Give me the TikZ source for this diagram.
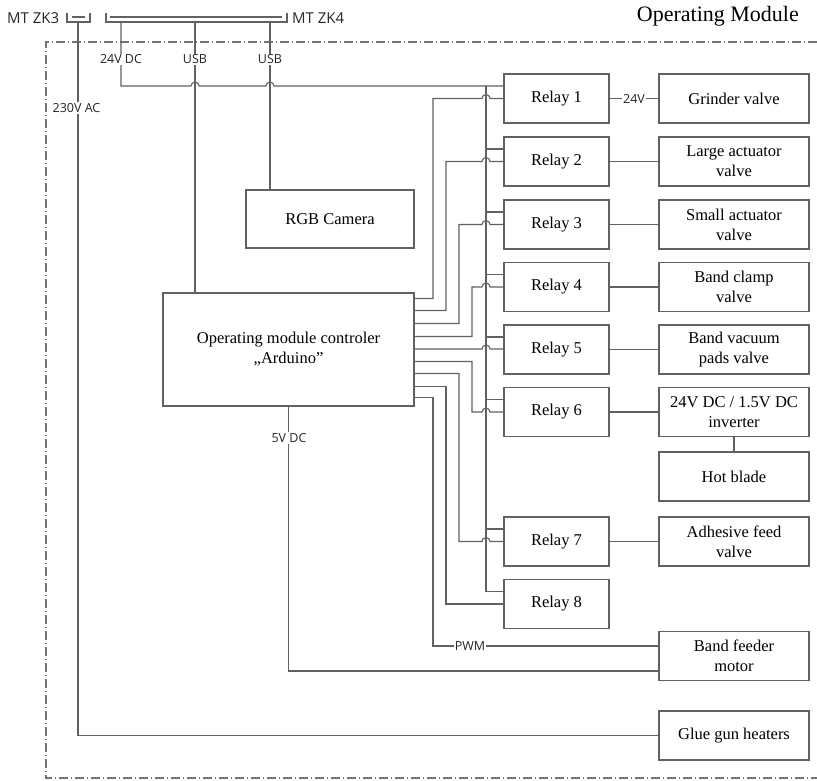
\documentclass[tikz,border=0pt]{standalone}
\usepackage{fontspec}
\setmainfont{Liberation Serif}
\newfontfamily\labfont{Open Sans}
\usetikzlibrary{calc}
\begin{document}
\begin{tikzpicture}[x=1pt,y=-1pt,
  wire/.style={draw=black!62,line width=1.1pt},
  border/.style={draw=black!55,line width=1.1pt,dash pattern=on 9pt off 3pt on 1pt off 3pt},
  relaybox/.style={draw=black!62,line width=1.1pt,rectangle,minimum width=105pt,minimum height=49pt,inner sep=1pt,align=center,font=\fontsize{16.5}{20}\selectfont},
  devbox/.style={relaybox,minimum width=150pt},
  lab/.style={fill=white,inner sep=1pt,text=black!85,font=\labfont\fontsize{12.5}{14}\selectfont},
  toplab/.style={anchor=base west,inner sep=0pt,font=\labfont\fontsize{15}{17}\selectfont,text=black!85}
]
\useasboundingbox (0,0) rectangle (817,780);

% frame
\draw[border] (817,42) -- (46,42) -- (46,778) -- (817,778);
\node[anchor=base east,font=\fontsize{22}{24}\selectfont,inner sep=0pt] (title) at (799,21) {Operating Module};

% connectors on top
\node[toplab] (zk3) at (7,23) {MT ZK3};
\node[toplab] (zk4) at (292,23) {MT ZK4};
\draw[wire] (67,13) -- (67,22) -- (90,22) -- (90,13);
\draw[wire] (72,17) -- (85,17);
\draw[wire] (106,13) -- (106,22) -- (287,22) -- (287,13);
\draw[wire] (110,17) -- (282,17);
\coordinate (t230) at (78,22);
\coordinate (t24) at (121,22);
\coordinate (tusbA) at (195,22);
\coordinate (tusbB) at (270,22);

% relays
\node[relaybox] (r1) at (556.5,98.5) {Relay 1};
\node[relaybox] (r2) at (556.5,161.5) {Relay 2};
\node[relaybox] (r3) at (556.5,224.5) {Relay 3};
\node[relaybox] (r4) at (556.5,287) {Relay 4};
\node[relaybox] (r5) at (556.5,349.5) {Relay 5};
\node[relaybox] (r6) at (556.5,412) {Relay 6};
\node[relaybox] (r7) at (556.5,541.5) {Relay 7};
\node[relaybox] (r8) at (556.5,604) {Relay 8};

% devices
\node[devbox] (d1) at (734,98.5) {Grinder valve};
\node[devbox] (d2) at (734,161.5) {Large actuator\\valve};
\node[devbox] (d3) at (734,224.5) {Small actuator\\valve};
\node[devbox] (d4) at (734,287) {Band clamp\\valve};
\node[devbox] (d5) at (734,349.5) {Band vacuum\\pads valve};
\node[devbox] (d6) at (734,412) {24V DC / 1.5V DC\\inverter};
\node[devbox] (hb) at (734,476.5) {Hot blade};
\node[devbox] (d7) at (734,541.5) {Adhesive feed\\valve};
\node[devbox] (bf) at (734,656) {Band feeder\\motor};
\node[devbox] (gg) at (734,735.5) {Glue gun heaters};

% controller and camera
\node[relaybox,minimum width=251pt,minimum height=113pt] (ard) at (288.5,349.5) {Operating module controler\\„Arduino”};
\node[relaybox,minimum width=168pt,minimum height=58pt] (cam) at (330,219) {RGB Camera};

% columns
\coordinate (c1) at (433,0);
\coordinate (c2) at (446,0);
\coordinate (c3) at (459,0);
\coordinate (c4) at (472,0);
\coordinate (bus) at (486,0);

% controller outputs
\coordinate (o1) at ($(ard.north east)+(0,6)$);
\coordinate (o2) at ($(ard.north east)+(0,18)$);
\coordinate (o3) at ($(ard.north east)+(0,31)$);
\coordinate (o4) at ($(ard.north east)+(0,44)$);
\coordinate (o5) at ($(ard.north east)+(0,56.5)$);
\coordinate (o6) at ($(ard.north east)+(0,69)$);
\coordinate (o7) at ($(ard.north east)+(0,81)$);
\coordinate (o8) at ($(ard.north east)+(0,94)$);
\coordinate (o9) at ($(ard.north east)+(0,105)$);

% power taps of relays
\foreach \i in {1,...,8} {\coordinate (p\i) at ($(r\i.west)+(0,-12.5)$);}

% 24V DC supply line with hops
\draw[wire] (t24) |- ($(tusbA |- p1)+(-4,0)$) arc[start angle=180,end angle=0,radius=4pt]
  -- ($(tusbB |- p1)+(-4,0)$) arc[start angle=180,end angle=0,radius=4pt] -- (p1);
% bus
\draw[wire] (bus |- p1) -- (bus |- p8);
\foreach \i in {2,...,8} {\draw[wire] (bus |- p\i) -- (p\i);}

% USB
\draw[wire] (tusbA) -- (tusbA |- ard.north);
\draw[wire] (tusbB) -- (tusbB |- cam.north);

% 230V AC
\draw[wire] (t230) |- (gg.west);

% signal lines
\draw[wire] (o1) -| (c1 |- r1.west) -- ($(bus |- r1.west)+(-4,0)$) arc[start angle=180,end angle=0,radius=4pt] -- (r1.west);
\draw[wire] (o2) -| (c2 |- r2.west) -- ($(bus |- r2.west)+(-4,0)$) arc[start angle=180,end angle=0,radius=4pt] -- (r2.west);
\draw[wire] (o3) -| (c3 |- r3.west) -- ($(bus |- r3.west)+(-4,0)$) arc[start angle=180,end angle=0,radius=4pt] -- (r3.west);
\draw[wire] (o4) -| (c4 |- r4.west) -- ($(bus |- r4.west)+(-4,0)$) arc[start angle=180,end angle=0,radius=4pt] -- (r4.west);
\draw[wire] (o5) -- ($(bus |- o5)+(-4,0)$) arc[start angle=180,end angle=0,radius=4pt] -- (r5.west |- o5);
\draw[wire] (o6) -| (c4 |- r6.west) -- ($(bus |- r6.west)+(-4,0)$) arc[start angle=180,end angle=0,radius=4pt] -- (r6.west);
\draw[wire] (o7) -| (c3 |- r7.west) -- ($(bus |- r7.west)+(-4,0)$) arc[start angle=180,end angle=0,radius=4pt] -- (r7.west);
\draw[wire] (o8) -| (c2 |- r8.west) -- (r8.west);
\coordinate (pwm) at ($(bf.west)+(0,-10)$);
\draw[wire] (o9) -| (c1 |- pwm) -- (pwm);
\coordinate (v5) at ($(bf.west)+(0,15)$);
\draw[wire] (ard.south) |- (v5);

% relay to device
\draw[wire] (r1.east) -- (d1.west);
\draw[wire] (r2.east) -- (d2.west);
\draw[wire] (r3.east) -- (d3.west);
\draw[wire] (r4.east) -- (d4.west);
\draw[wire] (r5.east) -- (d5.west);
\draw[wire] (r6.east) -- (d6.west);
\draw[wire] (r7.east) -- (d7.west);
\draw[wire] (d6.south) -- (hb.north);

% labels
\node[lab] (l24dc) at (121,59.5) {24V DC};
\node[lab] (lusbA) at (195,59.5) {USB};
\node[lab] (lusbB) at (270,59.5) {USB};
\node[lab] (l230) at (76.5,108) {230V AC};
\node[lab] (l5v) at (289,438) {5V DC};
\node[lab] (lpwm) at (470,646) {PWM};
\node[lab] (l24) at (634,98.5) {24V};
\end{tikzpicture}
\end{document}
